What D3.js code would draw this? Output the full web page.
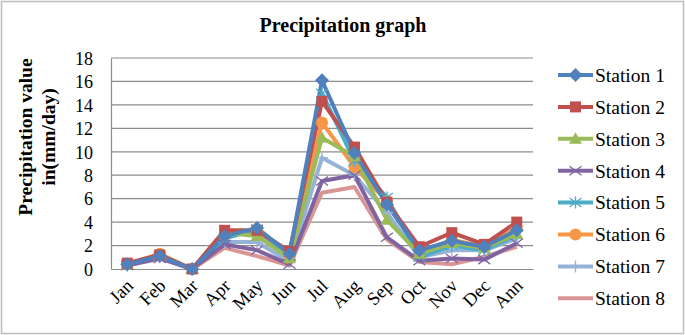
<!DOCTYPE html>
<html lang="en">
<head>
<meta charset="UTF-8">
<title>Precipitation graph</title>
<script src="https://cdnjs.cloudflare.com/ajax/libs/d3/7.8.5/d3.min.js"></script>
<style>
  body { margin: 0; background: #fff; }
  svg text { font-family: "Liberation Serif", "Times New Roman", serif; fill: #000; }
</style>
</head>
<body>
<div id="chart"></div>
<script>
// data
const months = ["Jan", "Feb", "Mar", "Apr", "May", "Jun", "Jul", "Aug", "Sep", "Oct", "Nov", "Dec", "Ann"];
const stationNames = ["Station 1", "Station 2", "Station 3", "Station 4", "Station 5", "Station 6", "Station 7", "Station 8"];
const station1 = [0.4, 1.1, 0.0, 2.8, 3.5, 1.3, 16.1, 9.9, 5.5, 1.6, 2.4, 1.9, 3.3];
const station2 = [0.5, 1.2, 0.0, 3.3, 3.3, 1.5, 14.3, 10.4, 5.7, 1.9, 3.1, 2.1, 4.0];
const station3 = [0.4, 1.2, 0.0, 3.1, 2.8, 0.9, 11.2, 9.6, 4.2, 1.3, 2.2, 1.8, 3.0];
const station4 = [0.3, 0.9, 0.0, 2.1, 1.6, 0.4, 7.5, 8.0, 2.7, 0.7, 0.9, 0.8, 2.2];
const station5 = [0.3, 1.1, 0.0, 2.6, 3.4, 1.1, 15.0, 9.2, 6.1, 1.0, 2.0, 1.6, 2.9];
const station6 = [0.4, 1.3, 0.0, 2.9, 3.2, 0.9, 12.5, 8.7, 5.8, 1.4, 2.5, 1.9, 3.5];
const station7 = [0.4, 1.0, 0.0, 2.3, 2.3, 0.6, 9.5, 8.0, 4.8, 1.0, 1.6, 1.6, 2.6];
const station8 = [0.3, 1.0, 0.0, 1.8, 1.1, 0.3, 6.5, 7.0, 2.5, 0.6, 0.4, 1.05, 1.9];
const yTicks = [0, 2, 4, 6, 8, 10, 12, 14, 16, 18];

const seriesValues = [station1, station2, station3, station4, station5, station6, station7, station8];
const colors = ["#4F81BD", "#C0504D", "#9BBB59", "#8064A2", "#4BACC6", "#F79646", "#95B3D7", "#D99694"];
const markers = ["diamond", "square", "triangle", "x", "asterisk", "circle", "plus", "none"];

const width = 685, height = 335;
const plot = { left: 111, right: 533, top: 58, bottom: 269 };
const serif = "'Liberation Serif', 'Times New Roman', serif";

const svg = d3.select("#chart").append("svg")
    .attr("width", width)
    .attr("height", height);

// outer frame
svg.append("rect")
    .attr("x", 1.5).attr("y", 1.5)
    .attr("width", width - 3).attr("height", height - 3)
    .attr("fill", "#fff")
    .attr("stroke", "#bdbdbd")
    .attr("stroke-width", 1.5);

const x = d3.scaleBand().domain(months).range([plot.left, plot.right]);
const y = d3.scaleLinear().domain([0, 18]).range([plot.bottom, plot.top]);

// gridlines
svg.append("g")
    .selectAll("line")
    .data(yTicks.filter(d => d > 0))
    .join("line")
    .attr("x1", plot.left).attr("x2", plot.right)
    .attr("y1", d => y(d)).attr("y2", d => y(d))
    .attr("stroke", "#8c8c8c")
    .attr("stroke-width", 1.2);

// y axis
const yAxis = svg.append("g")
    .attr("transform", `translate(${plot.left},0)`)
    .call(d3.axisLeft(y).tickValues(yTicks).tickSize(0).tickPadding(18));
yAxis.select(".domain").attr("stroke", "#8c8c8c").attr("stroke-width", 1.2);
yAxis.selectAll("text").attr("font-size", 18).attr("dy", "0.35em")
    .style("font-family", serif);

// x axis
const xAxis = svg.append("g")
    .attr("transform", `translate(0,${plot.bottom})`)
    .call(d3.axisBottom(x).tickSize(0).tickPadding(0));
xAxis.select(".domain").attr("stroke", "#8c8c8c").attr("stroke-width", 1.2);
xAxis.selectAll("text")
    .attr("font-size", 18.5)
    .style("font-family", serif)
    .attr("text-anchor", "end")
    .attr("dy", 0)
    .attr("transform", "translate(7,18) rotate(-45)");

// lines
const line = d3.line()
    .x((d, i) => x(months[i]) + x.bandwidth() / 2)
    .y(d => y(d));

// draw from last to first so Station 1 ends on top
const order = d3.range(seriesValues.length).reverse();

function drawMarker(g, type, color) {
    if (type === "diamond") {
        const s = 7;
        g.append("path").attr("d", `M0,${-s}L${s},0L0,${s}L${-s},0Z`).attr("fill", color);
    } else if (type === "square") {
        const s = 5.5;
        g.append("rect").attr("x", -s).attr("y", -s)
            .attr("width", 2 * s).attr("height", 2 * s).attr("fill", color);
    } else if (type === "triangle") {
        const s = 6.5;
        g.append("path").attr("d", `M0,${-s}L${s},${s * 0.75}L${-s},${s * 0.75}Z`).attr("fill", color);
    } else if (type === "circle") {
        g.append("circle").attr("r", 6).attr("fill", color);
    } else if (type === "x") {
        const s = 6;
        g.append("path").attr("d", `M${-s},${-s * 0.75}L${s},${s * 0.75}M${-s},${s * 0.75}L${s},${-s * 0.75}`)
            .attr("stroke", color).attr("stroke-width", 1.3).attr("fill", "none");
    } else if (type === "asterisk") {
        const s = 6;
        g.append("path").attr("d", `M${-s},${-s * 0.75}L${s},${s * 0.75}M${-s},${s * 0.75}L${s},${-s * 0.75}M0,${-s}L0,${s}`)
            .attr("stroke", color).attr("stroke-width", 1.3).attr("fill", "none");
    } else if (type === "plus") {
        const s = 6;
        g.append("path").attr("d", `M0,${-s}L0,${s}M${-s},0L${s},0`)
            .attr("stroke", color).attr("stroke-width", 1.3).attr("fill", "none");
    }
}

order.forEach(si => {
    svg.append("path")
        .datum(seriesValues[si])
        .attr("fill", "none")
        .attr("stroke", colors[si])
        .attr("stroke-width", 4)
        .attr("stroke-linejoin", "round")
        .attr("d", line);
});

order.forEach(si => {
    if (markers[si] === "none") return;
    seriesValues[si].forEach((v, i) => {
        const g = svg.append("g")
            .attr("transform", `translate(${x(months[i]) + x.bandwidth() / 2},${y(v)})`);
        drawMarker(g, markers[si], colors[si]);
    });
});

// title
svg.append("text")
    .attr("x", 343).attr("y", 32)
    .attr("text-anchor", "middle")
    .attr("font-size", 20)
    .attr("font-weight", "bold")
    .text("Precipitation graph");

// y axis title
const yTitle = svg.append("text")
    .attr("transform", "translate(0,137) rotate(-90)")
    .attr("text-anchor", "middle")
    .attr("font-size", 19.5)
    .attr("font-weight", "bold");
yTitle.append("tspan").attr("x", 0).attr("y", 32).text("Precipitation value");
yTitle.append("tspan").attr("x", 0).attr("y", 55).text("in(mm/day)");

// legend
const legend = svg.append("g");
stationNames.forEach((name, i) => {
    const ly = 75 + i * 31.9;
    legend.append("line")
        .attr("x1", 558).attr("x2", 593)
        .attr("y1", ly).attr("y2", ly)
        .attr("stroke", colors[i]).attr("stroke-width", 4);
    const g = legend.append("g").attr("transform", `translate(575.5,${ly})`);
    drawMarker(g, markers[i], colors[i]);
    legend.append("text")
        .attr("x", 595).attr("y", ly)
        .attr("dy", "0.35em")
        .attr("font-size", 19.5)
        .text(name);
});
</script>
</body>
</html>
